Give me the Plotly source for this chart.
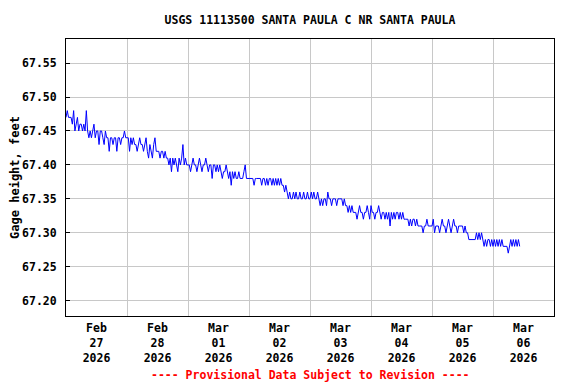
import pandas as pd
import plotly.graph_objects as go

# Gage height readings (feet), every 30 minutes starting 2026-02-27 00:00
gage_height_ft = [
    67.47, 67.48, 67.47, 67.47, 67.47, 67.46, 67.48, 67.45, 67.46, 67.47, 67.45, 67.46,
    67.46, 67.45, 67.46, 67.45, 67.48, 67.45, 67.44, 67.45, 67.44, 67.45, 67.46, 67.44,
    67.45, 67.45, 67.43, 67.45, 67.45, 67.44, 67.43, 67.45, 67.44, 67.44, 67.42, 67.44,
    67.44, 67.43, 67.44, 67.44, 67.42, 67.44, 67.44, 67.43, 67.44, 67.44, 67.45, 67.44,
    67.44, 67.44, 67.42, 67.44, 67.43, 67.44, 67.43, 67.43, 67.42, 67.43, 67.44, 67.43,
    67.43, 67.42, 67.43, 67.44, 67.42, 67.41, 67.43, 67.42, 67.41, 67.43, 67.44, 67.42,
    67.42, 67.42, 67.41, 67.42, 67.42, 67.41, 67.42, 67.41, 67.41, 67.40, 67.41, 67.39,
    67.41, 67.40, 67.41, 67.40, 67.39, 67.41, 67.40, 67.41, 67.43, 67.40, 67.41, 67.40,
    67.40, 67.40, 67.39, 67.40, 67.41, 67.40, 67.40, 67.39, 67.40, 67.41, 67.40, 67.39,
    67.40, 67.40, 67.41, 67.40, 67.39, 67.40, 67.40, 67.38, 67.40, 67.40, 67.39, 67.40,
    67.39, 67.40, 67.39, 67.38, 67.39, 67.39, 67.40, 67.39, 67.38, 67.39, 67.37, 67.39,
    67.38, 67.39, 67.38, 67.38, 67.39, 67.38, 67.38, 67.38, 67.39, 67.40, 67.38, 67.38,
    67.38, 67.38, 67.38, 67.38, 67.37, 67.38, 67.38, 67.38, 67.38, 67.38, 67.37, 67.38,
    67.38, 67.37, 67.38, 67.37, 67.38, 67.38, 67.37, 67.38, 67.37, 67.38, 67.37, 67.38,
    67.37, 67.38, 67.37, 67.37, 67.36, 67.37, 67.36, 67.35, 67.36, 67.35, 67.35, 67.36,
    67.35, 67.36, 67.35, 67.35, 67.36, 67.35, 67.35, 67.36, 67.35, 67.35, 67.36, 67.35,
    67.35, 67.36, 67.35, 67.36, 67.35, 67.35, 67.36, 67.35, 67.34, 67.35, 67.34, 67.35,
    67.35, 67.34, 67.36, 67.35, 67.35, 67.34, 67.35, 67.35, 67.35, 67.34, 67.35, 67.35,
    67.35, 67.35, 67.34, 67.35, 67.34, 67.34, 67.33, 67.34, 67.33, 67.34, 67.33, 67.33,
    67.33, 67.32, 67.33, 67.34, 67.33, 67.33, 67.32, 67.33, 67.33, 67.34, 67.33, 67.32,
    67.34, 67.33, 67.33, 67.32, 67.33, 67.33, 67.34, 67.33, 67.32, 67.33, 67.33, 67.32,
    67.33, 67.32, 67.33, 67.31, 67.33, 67.32, 67.33, 67.32, 67.33, 67.33, 67.32, 67.33,
    67.32, 67.33, 67.32, 67.32, 67.32, 67.32, 67.31, 67.32, 67.31, 67.32, 67.32, 67.31,
    67.32, 67.31, 67.31, 67.31, 67.31, 67.30, 67.31, 67.31, 67.32, 67.31, 67.31, 67.31,
    67.31, 67.32, 67.30, 67.31, 67.31, 67.31, 67.30, 67.31, 67.32, 67.31, 67.31, 67.30,
    67.31, 67.32, 67.31, 67.30, 67.31, 67.32, 67.31, 67.31, 67.30, 67.31, 67.31, 67.31,
    67.31, 67.30, 67.31, 67.30, 67.30, 67.29, 67.29, 67.29, 67.29, 67.29, 67.29, 67.30,
    67.29, 67.30, 67.29, 67.30, 67.29, 67.28, 67.29, 67.28, 67.29, 67.29, 67.28, 67.29,
    67.28, 67.29, 67.28, 67.29, 67.28, 67.29, 67.28, 67.29, 67.28, 67.28, 67.28, 67.28,
    67.27, 67.28, 67.29, 67.28, 67.29, 67.28, 67.29, 67.28, 67.29, 67.28,
]
times = pd.date_range("2026-02-27 00:00", periods=len(gage_height_ft), freq="30min")

# Axis labels
x_tick_dates = ["2026-02-27 12:00", "2026-02-28 12:00", "2026-03-01 12:00", "2026-03-02 12:00",
                "2026-03-03 12:00", "2026-03-04 12:00", "2026-03-05 12:00", "2026-03-06 12:00"]
x_tick_labels = ["Feb<br>27<br>2026", "Feb<br>28<br>2026", "Mar<br>01<br>2026", "Mar<br>02<br>2026",
                 "Mar<br>03<br>2026", "Mar<br>04<br>2026", "Mar<br>05<br>2026", "Mar<br>06<br>2026"]
y_ticks = [67.20, 67.25, 67.30, 67.35, 67.40, 67.45, 67.50, 67.55]

FONT = "DejaVu Sans Mono"
GRID = "#c8c8c8"
# the page body adds an 8px offset; the figure is sized to fit the window
W, H, OFF = 568, 376, 8

fig = go.Figure()
fig.add_trace(go.Scatter(x=times, y=gage_height_ft, mode="lines",
                         line=dict(color="#0000ff", width=1), showlegend=False))

fig.update_layout(
    width=W, height=H,
    margin=dict(l=66 - OFF, r=22, t=39 - OFF, b=68, autoexpand=False),
    paper_bgcolor="white", plot_bgcolor="white",
    font=dict(family=FONT, size=11.5, color="black", weight="bold"),
    title=dict(text="USGS 11113500 SANTA PAULA C NR SANTA PAULA",
               x=0.5, xref="paper", xanchor="center",
               y=1 - (20 - OFF) / H, yref="container", yanchor="middle",
               font=dict(family=FONT, size=11.5, color="black", weight="bold")),
    xaxis=dict(
        range=["2026-02-27 00:00", "2026-03-07 00:00"],
        tickmode="array", tickvals=x_tick_dates, ticktext=x_tick_labels,
        showgrid=False, ticks="", showline=True, linecolor="black", linewidth=1, mirror=True,
        ticklabelstandoff=1,
        minor=dict(tick0="2026-02-27", dtick=86400000, showgrid=True, gridcolor=GRID, gridwidth=1, ticks=""),
        zeroline=False, automargin=False,
    ),
    yaxis=dict(
        range=[67.1774, 67.5855],
        tickmode="array", tickvals=y_ticks, tickformat=".2f",
        showgrid=True, gridcolor=GRID, gridwidth=1,
        ticks="inside", ticklen=4, tickcolor="black",
        ticklabelstandoff=6,
        showline=True, linecolor="black", linewidth=1, mirror=True,
        zeroline=False, automargin=False,
        title=dict(text="Gage height, feet", standoff=2,
                   font=dict(family=FONT, size=12, color="black", weight="bold")),
    ),
    annotations=[dict(text="---- Provisional Data Subject to Revision ----",
                      x=0.5, xref="paper", y=-0.2132, yref="paper",
                      xanchor="center", yanchor="middle", showarrow=False,
                      font=dict(family=FONT, size=11.5, color="#ff0000", weight="bold"))],
)

fig.write_html("out.html")
